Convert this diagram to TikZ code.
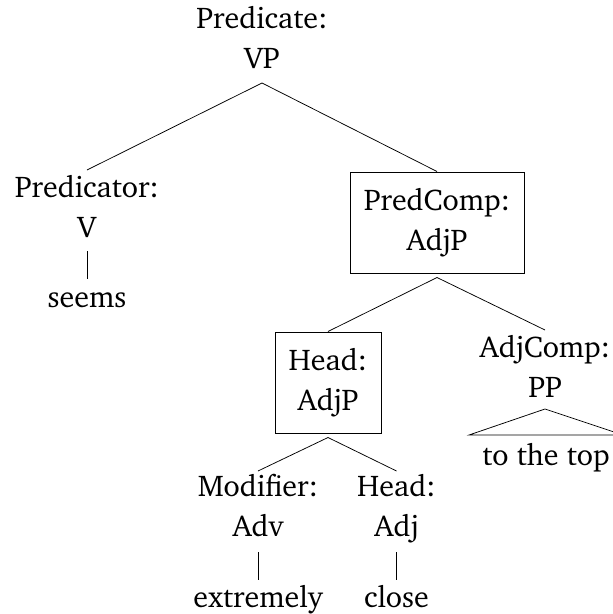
\documentclass[tikz,border=0pt]{standalone}
\usepackage[T1]{fontenc}
\usepackage{charter}
\begin{document}
\begin{tikzpicture}[x=1pt,y=-1pt,
  lbl/.style={font=\fontsize{30}{40}\selectfont, align=center, inner sep=0pt, anchor=base},
  boxnode/.style={draw, line width=1pt, font=\fontsize{30}{40}\selectfont, align=center, inner sep=0pt},
  edge/.style={line width=0.75pt}]
\useasboundingbox (0,0) rectangle (613,614);
\node[lbl] (pred) at (262,68) {Predicate:\\VP};
\node[lbl] (ptor) at (87,237) {Predicator:\\V};
\node[lbl] (seems) at (87,307) {seems};
\node[boxnode, minimum width=174pt, minimum height=101pt] (pc) at (437,222.5) {PredComp:\\AdjP};
\node[boxnode, minimum width=106pt, minimum height=101pt] (hd) at (328,382.5) {Head:\\AdjP};
\node[lbl] (ac) at (545,397) {AdjComp:\\PP};
\node[lbl] (top) at (546,465) {to the top};
\node[lbl] (mod) at (258,536) {Modifier:\\Adv};
\node[lbl] (hj) at (396.5,536) {Head:\\Adj};
\node[lbl] (ext) at (258,607) {extremely};
\node[lbl] (cl) at (396.5,607) {close};
% connectors
\draw[edge] ([yshift=67pt]ptor.base) -- ([yshift=-15pt]pred.base) -- (pc.north);
\draw[edge] ([yshift=-14pt]ptor.base) -- ([yshift=28pt]seems.base);
\draw[edge] (hd.north) -- ([yshift=-4pt]pc.south) -- ([yshift=67pt]ac.base);
\draw[edge] ([yshift=-12pt]ac.base) -- ([shift={(-77pt,30pt)}]top.base) -- ([shift={(77pt,30pt)}]top.base) -- cycle;
\draw[edge] ([yshift=65pt]mod.base) -- ([yshift=-4pt]hd.south) -- ([yshift=65pt]hj.base);
\draw[edge] ([yshift=-16pt]mod.base) -- ([yshift=27pt]ext.base);
\draw[edge] ([yshift=-16pt]hj.base) -- ([yshift=27pt]cl.base);
\end{tikzpicture}
\end{document}
